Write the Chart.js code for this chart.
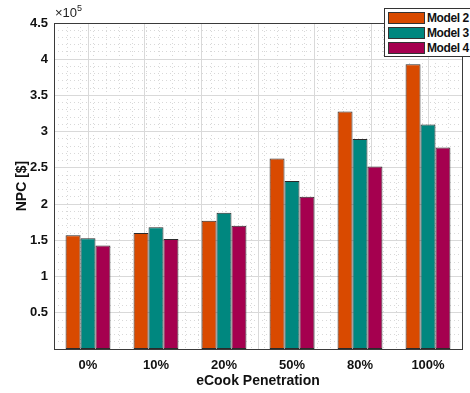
<!DOCTYPE html>
<html>
<head>
<meta charset="utf-8">
<script src="https://cdn.jsdelivr.net/npm/chart.js@4/dist/chart.umd.min.js"></script>
<style>
  html,body{margin:0;padding:0;background:#fff;}
  #wrap{position:relative;width:470px;height:393px;overflow:hidden;font-family:"Liberation Sans",Arial,sans-serif;}
  #c{position:absolute;left:0;top:0;}
  #legend{position:absolute;left:384px;top:8px;width:100px;height:49px;background:#fff;border:1px solid #333;box-sizing:border-box;}
  #legend .row{position:absolute;left:3px;height:12px;display:flex;align-items:center;white-space:nowrap;width:120px;}
  #legend .sw{width:35px;height:10px;border:1px solid #333;margin-right:2px;flex:none;}
  #legend .tx{font-weight:bold;font-size:12px;letter-spacing:-0.4px;color:#111;white-space:nowrap;}
  #exp{position:absolute;left:55px;top:4px;font-size:13px;color:#222;}
  #exp sup{font-size:9px;position:relative;top:-1px;}
</style>
</head>
<body>
<div id="wrap">
  <canvas id="c" width="470" height="393"></canvas>
  <div id="exp">&times;10<sup>5</sup></div>
  <div id="legend"></div>
</div>
<script>
const categories = ['0%','10%','20%','50%','80%','100%'];
const seriesNames = ['Model 2','Model 3','Model 4'];
const model2 = [157000,160000,177000,263000,328000,393000];
const model3 = [153000,168000,188000,232000,290000,310000];
const model4 = [143000,152000,170000,210000,252000,278000];
const yTicks = [50000,100000,150000,200000,250000,300000,350000,400000,450000];
const colors = ['#D94A00','#00877F','#A5004F'];

const edge = '#3a3a3a', major = '#d9d9d9', minor = '#d8d8d8';
const fixSize = (w,h) => s => { if(w!=null) s.width=w; if(h!=null) s.height=h; };

const data = [model2, model3, model4];
new Chart(document.getElementById('c'), {
  type:'bar',
  data:{labels:categories, datasets:data.map((d,i)=>({
    label:seriesNames[i], data:d, backgroundColor:colors[i],
    borderColor:'#2a2a2a', borderWidth:1, borderSkipped:false,
    barPercentage:1, categoryPercentage:0.66, xAxisID:'x', yAxisID:'y'
  }))},
  options:{
    responsive:false, animation:false, maintainAspectRatio:false,
    layout:{padding:0},
    plugins:{legend:{display:false}, tooltip:{enabled:false}},
    scales:{
      // minor vertical grid (dotted)
      xm:{type:'linear', position:'bottom', min:0.5, max:6.5, display:true,
        afterFit:fixSize(null,0),
        ticks:{display:false},
        afterBuildTicks:s=>{ s.ticks=[]; for(let i=0;i<=30;i++){ const v=0.5+i*0.2; if(Math.abs(v-Math.round(v))>0.01) s.ticks.push({value:v}); } },
        grid:{color:minor, lineWidth:1, drawTicks:false}, border:{display:false, dash:[1,3]}},
      // minor horizontal grid (dotted)
      ym:{type:'linear', position:'left', min:0, max:450000, display:true,
        afterFit:fixSize(0,null),
        ticks:{display:false},
        afterBuildTicks:s=>{ s.ticks=[]; for(let v=10000;v<450000;v+=10000){ if(v%50000) s.ticks.push({value:v}); } },
        grid:{color:minor, lineWidth:1, drawTicks:false}, border:{display:false, dash:[1,3]}},
      // major vertical grid + top frame
      xt:{type:'linear', position:'top', min:0.5, max:6.5,
        afterFit:fixSize(null,23),
        afterBuildTicks:s=>{ s.ticks=[1,2,3,4,5,6].map(v=>({value:v})); },
        ticks:{display:false},
        grid:{color:major, lineWidth:1, drawTicks:false}, border:{display:true, color:edge, width:1}},
      // right frame
      yr:{type:'linear', position:'right', min:0, max:450000,
        afterFit:fixSize(8,null),
        ticks:{display:false}, grid:{display:false},
        border:{display:true, color:edge, width:1}},
      x:{type:'category', position:'bottom', offset:true,
        afterFit:fixSize(null,44),
        grid:{display:false, drawTicks:false}, border:{display:true, color:edge, width:1},
        ticks:{color:'#111', font:{family:'"Liberation Sans", Arial, sans-serif', size:13, weight:'bold'}, padding:9},
        title:{display:true, text:'eCook Penetration', color:'#111', padding:{top:0,bottom:3},
          font:{family:'"Liberation Sans", Arial, sans-serif', size:14, weight:'bold'}}},
      y:{type:'linear', position:'left', min:0, max:450000,
        afterFit:fixSize(54,null),
        afterBuildTicks:s=>{ s.ticks=yTicks.map(v=>({value:v})); },
        grid:{color:major, lineWidth:1, drawTicks:false}, border:{display:true, color:edge, width:1},
        ticks:{color:'#111', padding:6, callback:v=>String(v/100000),
          font:{family:'"Liberation Sans", Arial, sans-serif', size:13, weight:'bold'}},
        title:{display:true, text:'NPC [$]', color:'#111', padding:{top:14,bottom:0},
          font:{family:'"Liberation Sans", Arial, sans-serif', size:14, weight:'bold'}}}
    }
  }
});

// legend
const lg = document.getElementById('legend');
seriesNames.forEach((n,i)=>{
  const r=document.createElement('div'); r.className='row'; r.style.top=(3+i*15)+'px';
  r.innerHTML=`<div class="sw" style="background:${colors[i]}"></div><span class="tx">${n}</span>`;
  lg.appendChild(r);
});
</script>
</body>
</html>
